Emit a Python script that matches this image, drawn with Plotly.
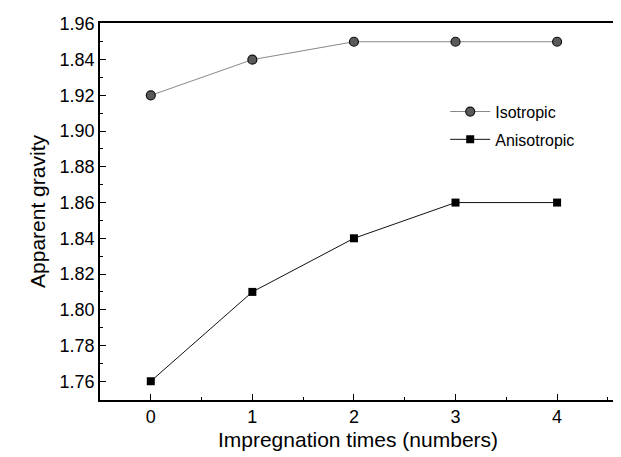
import plotly.graph_objects as go

times = [0, 1, 2, 3, 4]
isotropic = [1.92, 1.94, 1.95, 1.95, 1.95]
anisotropic = [1.76, 1.81, 1.84, 1.86, 1.86]
y_tickvals = [1.76, 1.78, 1.80, 1.82, 1.84, 1.86, 1.88, 1.90, 1.92, 1.94, 1.96]
y_ticktext = ["1.76", "1.78", "1.80", "1.82", "1.84", "1.86", "1.88", "1.90", "1.92", "1.84", "1.96"]
x_tickvals = [0, 1, 2, 3, 4]

FONT = "Liberation Sans, Arial"

fig = go.Figure()
fig.add_trace(go.Scatter(
    x=times, y=isotropic, name="Isotropic", mode="lines+markers",
    line=dict(color="#888888", width=1),
    marker=dict(symbol="circle", size=9, color="#5a5a5a", line=dict(color="#111111", width=1.2)),
    legendgroup="a",
))
fig.add_trace(go.Scatter(
    x=times, y=anisotropic, name="Anisotropic", mode="lines+markers",
    line=dict(color="#111111", width=1),
    marker=dict(symbol="square", size=8, color="#000000"),
    legendgroup="b",
))

axis_common = dict(
    showline=True, linecolor="black", linewidth=1.5, mirror=True,
    ticks="inside", ticklen=6, tickwidth=1, tickcolor="black",
    showgrid=False, zeroline=False, automargin=False,
    tickfont=dict(family=FONT, size=18, color="black"),
)

fig.update_xaxes(
    range=[-0.5, 4.58], tickvals=x_tickvals,
    minor=dict(ticks="inside", ticklen=3, dtick=0.5, tick0=0.5, tickcolor="black"),
    title=dict(text="Impregnation times (numbers)", font=dict(family=FONT, size=21, color="black"), standoff=6),
    **axis_common,
)
fig.update_yaxes(
    range=[1.7495, 1.9605], tickvals=y_tickvals, ticktext=y_ticktext,
    minor=dict(ticks="inside", ticklen=3, dtick=0.01, tick0=1.75, tickcolor="black"),
    title=dict(text="Apparent gravity", font=dict(family=FONT, size=21, color="black"), standoff=8),
    **axis_common,
)

fig.update_layout(
    width=621, height=457,
    margin=dict(l=92, r=13, t=15, b=65),
    paper_bgcolor="white", plot_bgcolor="white",
    legend=dict(
        x=0.669, y=0.81, xanchor="left", yanchor="top",
        font=dict(family=FONT, size=16, color="black"),
        bgcolor="rgba(0,0,0,0)", tracegroupgap=4, itemwidth=40,
    ),
    showlegend=True,
)

fig.write_html("out.html")
